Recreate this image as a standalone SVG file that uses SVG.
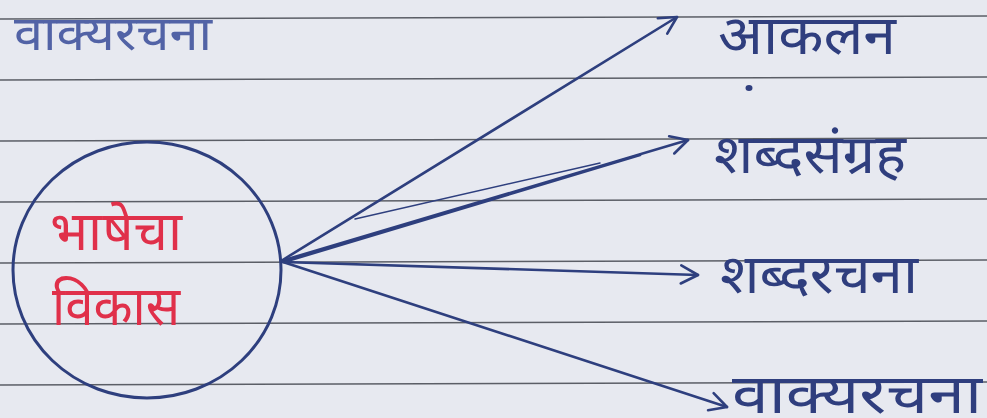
<svg xmlns="http://www.w3.org/2000/svg" width="987" height="418" viewBox="0 0 987 418">
<style>
.rule{stroke:#5b5e66;stroke-width:1.6;fill:none}
.ink{stroke:#2e3f7e;stroke-width:2.6;fill:none;stroke-linecap:round;stroke-linejoin:round}
.lbl{font-family:"Noto Sans Devanagari","Lohit Devanagari","Mangal","Noto Sans",sans-serif;fill:#2f3e7e;font-size:54px}
.red{font-family:"Noto Sans Devanagari","Lohit Devanagari","Mangal","Noto Sans",sans-serif;fill:#e0304a;font-size:54px}
</style>
<defs>
<marker id="chev" viewBox="0 0 24 24" refX="22" refY="12" markerWidth="24" markerHeight="24" markerUnits="userSpaceOnUse" orient="auto">
<path d="M5 3 L22 12 L5 21" fill="none" stroke="#2e3f7e" stroke-width="2.6" stroke-linecap="round" stroke-linejoin="round"/>
</marker>
</defs>
<rect width="987" height="418" fill="#e7e9f0"/>
<g id="paper">
<line class="rule" x1="0" y1="19" x2="987" y2="16"/>
<line class="rule" x1="0" y1="80" x2="987" y2="77"/>
<line class="rule" x1="0" y1="141" x2="987" y2="138"/>
<line class="rule" x1="0" y1="202" x2="987" y2="199"/>
<line class="rule" x1="0" y1="263" x2="987" y2="260"/>
<line class="rule" x1="0" y1="324" x2="987" y2="321"/>
<line class="rule" x1="0" y1="385" x2="987" y2="382"/>
</g>
<g id="top-label">
<text class="lbl" x="14" y="50" textLength="198" lengthAdjust="spacingAndGlyphs" style="fill:#5263a6;font-size:48px">वाक्यरचना</text>
</g>
<g id="center">
<ellipse class="ink" cx="147" cy="270" rx="134" ry="128" style="stroke-width:3"/>
<text class="red" x="50" y="250" textLength="132" lengthAdjust="spacingAndGlyphs">भाषेचा</text>
<text class="red" x="52" y="325" textLength="128" lengthAdjust="spacingAndGlyphs">विकास</text>
</g>
<g id="n1"><text class="lbl" x="718" y="54" textLength="178" lengthAdjust="spacingAndGlyphs">आकलन</text><ellipse cx="749" cy="88" rx="3.5" ry="3" fill="#2f3e7e"/></g>
<g id="n2"><text class="lbl" x="714" y="173" textLength="192" lengthAdjust="spacingAndGlyphs">शब्दसंग्रह</text></g>
<g id="n3"><text class="lbl" x="720" y="293" textLength="198" lengthAdjust="spacingAndGlyphs">शब्दरचना</text></g>
<g id="n4"><text class="lbl" x="732" y="413" textLength="250" lengthAdjust="spacingAndGlyphs">वाक्यरचना</text></g>
<g id="connectors">
<line class="ink" x1="281" y1="261" x2="677" y2="17" marker-end="url(#chev)"/>
<line class="ink" x1="281" y1="261" x2="688" y2="140" marker-end="url(#chev)"/>
<line class="ink" x1="284" y1="262" x2="640" y2="155"/>
<line class="ink" x1="355" y1="219" x2="600" y2="163" style="stroke-width:1.4"/>
<line class="ink" x1="283" y1="262" x2="698" y2="275" marker-end="url(#chev)"/>
<line class="ink" x1="283" y1="262" x2="727" y2="407" marker-end="url(#chev)"/>
</g>
</svg>
